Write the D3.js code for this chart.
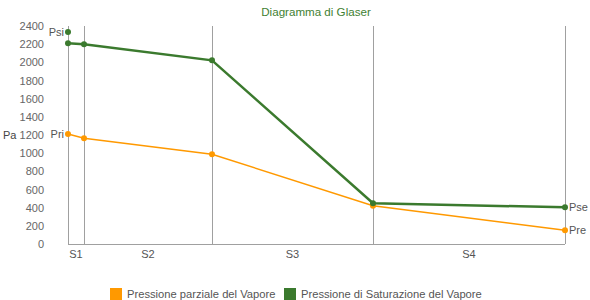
<!DOCTYPE html>
<html><head><meta charset="utf-8">
<script src="https://cdn.jsdelivr.net/npm/d3@7"></script>
<style>body{margin:0;background:#fff;font-family:"Liberation Sans",Arial,sans-serif;}</style>
</head><body><svg id="c" width="590" height="300"></svg>
<script>
const layers = ["S1","S2","S3","S4"];
const edges = [0, 1.6, 14.4, 30.5, 49.7];
const yTicks = [0,200,400,600,800,1000,1200,1400,1600,1800,2000,2200,2400];
const satValues = [2210, 2199, 2022, 448, 404];
const parValues = [1211, 1164, 988, 422, 151];
const psi = 2334;
const seriesNames = ["Pressione parziale del Vapore","Pressione di Saturazione del Vapore"];
const colors = ["#ff9900","#3b7a2e"];

const svg = d3.select("#c");
const x = d3.scaleLinear().domain([0, 49.7]).range([68, 565]);
const y = d3.scaleLinear().domain([0, 2400]).range([244, 26]);

svg.append("text").attr("x",316).attr("y",16).attr("text-anchor","middle")
  .attr("font-size",11.6).attr("fill","#3f7f33").text("Diagramma di Glaser");

// vertical lines
svg.selectAll("line.v").data(edges).enter().append("line")
  .attr("x1",d=>x(d)).attr("x2",d=>x(d)).attr("y1",y(2400)).attr("y2",y(0))
  .attr("stroke","#a0a0a0").attr("stroke-width",1).attr("shape-rendering","crispEdges");
svg.append("line").attr("x1",x(0)).attr("x2",x(49.7)).attr("y1",y(0)).attr("y2",y(0))
  .attr("stroke","#a0a0a0").attr("shape-rendering","crispEdges");

// y tick labels
svg.selectAll("text.yt").data(yTicks).enter().append("text")
  .attr("x",44).attr("y",d=>y(d)+4).attr("text-anchor","end")
  .attr("font-size",11).attr("fill","#666").text(d=>d);
svg.append("text").attr("x",3).attr("y",y(1200)+4).attr("font-size",11).attr("fill","#444").text("Pa");

// x labels
svg.selectAll("text.xl").data(layers).enter().append("text")
  .attr("x",(d,i)=>(x(edges[i])+x(edges[i+1]))/2).attr("y",258).attr("text-anchor","middle")
  .attr("font-size",11).attr("fill","#555").text(d=>d);

const line = d3.line().x((d,i)=>x(edges[i])).y(d=>y(d));
svg.append("path").datum(parValues).attr("d",line).attr("fill","none")
  .attr("stroke",colors[0]).attr("stroke-width",1.5);
svg.append("path").datum(satValues).attr("d",line).attr("fill","none")
  .attr("stroke",colors[1]).attr("stroke-width",2.5);
svg.selectAll("circle.p").data(parValues).enter().append("circle")
  .attr("cx",(d,i)=>x(edges[i])).attr("cy",d=>y(d)).attr("r",3).attr("fill",colors[0]);
svg.selectAll("circle.s").data(satValues).enter().append("circle")
  .attr("cx",(d,i)=>x(edges[i])).attr("cy",d=>y(d)).attr("r",3).attr("fill",colors[1]);
svg.append("circle").attr("cx",x(0)).attr("cy",y(psi)).attr("r",3).attr("fill",colors[1]);

// point labels
svg.append("text").attr("x",x(0)-4).attr("y",y(psi)+4).attr("text-anchor","end").attr("font-size",11).attr("fill","#555").text("Psi");
svg.append("text").attr("x",x(0)-4).attr("y",y(parValues[0])+4).attr("text-anchor","end").attr("font-size",11).attr("fill","#555").text("Pri");
svg.append("text").attr("x",x(49.7)+4).attr("y",y(satValues[4])+4).attr("font-size",11).attr("fill","#555").text("Pse");
svg.append("text").attr("x",x(49.7)+4).attr("y",y(parValues[4])+4).attr("font-size",11).attr("fill","#555").text("Pre");

// legend
const lx = [110, 284];
seriesNames.forEach((n,i)=>{
  svg.append("rect").attr("x",lx[i]).attr("y",288).attr("width",12).attr("height",12).attr("fill",colors[i]);
  svg.append("text").attr("x",lx[i]+17).attr("y",298).attr("font-size",11.2).attr("fill","#555").text(n);
});
</script></body></html>
